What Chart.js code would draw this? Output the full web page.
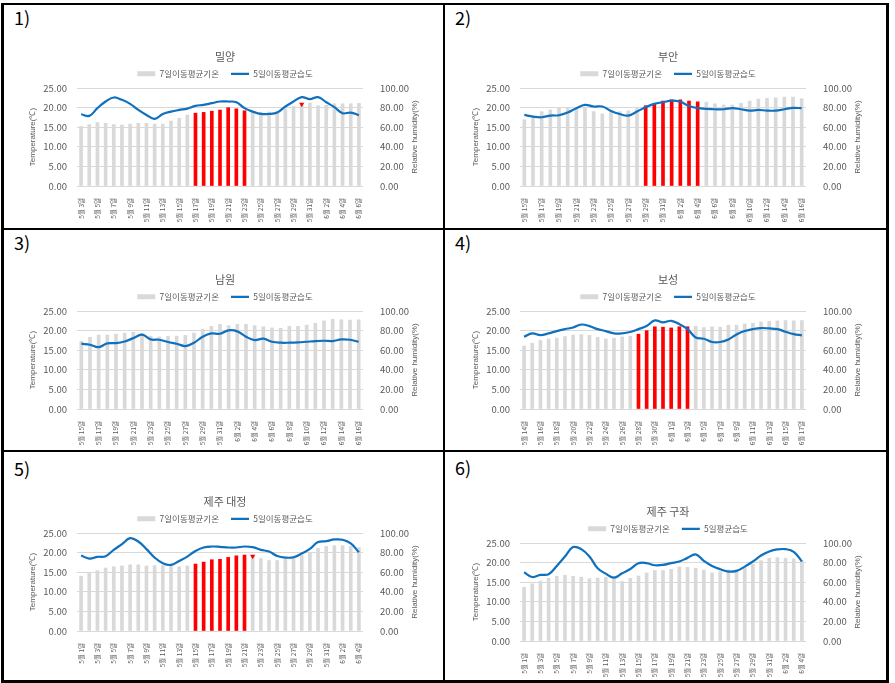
<!DOCTYPE html>
<html>
<head>
<meta charset="utf-8">
<script src="https://cdn.jsdelivr.net/npm/chart.js@4.4.1/dist/chart.umd.min.js"></script>
<style>
  body { margin: 0; background: #fff; }
  #page { position: relative; width: 895px; height: 683px; overflow: hidden; background: #fff; }
  .ln { position: absolute; background: #000; }
  .num { position: absolute; font: 18px 'Noto Sans CJK KR', sans-serif; color: #000; line-height: 20px; }
  canvas { position: absolute; }
</style>
</head>
<body>
<div id="page">
  <div class="ln" style="left:1px;top:3px;width:888px;height:2px"></div>
  <div class="ln" style="left:1px;top:680px;width:888px;height:3px"></div>
  <div class="ln" style="left:1px;top:3px;width:3px;height:680px"></div>
  <div class="ln" style="left:886px;top:3px;width:3px;height:680px"></div>
  <div class="ln" style="left:443px;top:3px;width:2px;height:680px"></div>
  <div class="ln" style="left:1px;top:228px;width:888px;height:2px"></div>
  <div class="ln" style="left:1px;top:450px;width:888px;height:2px"></div>

  <div class="num" style="left:14px;top:7px">1)</div>
  <div class="num" style="left:455px;top:7px">2)</div>
  <div class="num" style="left:14px;top:232px">3)</div>
  <div class="num" style="left:455px;top:232px">4)</div>
  <div class="num" style="left:14px;top:458px">5)</div>
  <div class="num" style="left:455px;top:457px">6)</div>

  <canvas id="c1" width="410" height="185" style="left:20px;top:40px"></canvas>
  <canvas id="c2" width="410" height="185" style="left:463px;top:40px"></canvas>
  <canvas id="c3" width="410" height="185" style="left:20px;top:263px"></canvas>
  <canvas id="c4" width="410" height="185" style="left:463px;top:263px"></canvas>
  <canvas id="c5" width="410" height="185" style="left:20px;top:485px"></canvas>
  <canvas id="c6" width="410" height="185" style="left:463px;top:495px"></canvas>
</div>

<script>
// dates (categories)
const datesMiryang = ['5월 3일','5월 4일','5월 5일','5월 6일','5월 7일','5월 8일','5월 9일','5월 10일','5월 11일','5월 12일',
  '5월 13일','5월 14일','5월 15일','5월 16일','5월 17일','5월 18일','5월 19일','5월 20일','5월 21일','5월 22일',
  '5월 23일','5월 24일','5월 25일','5월 26일','5월 27일','5월 28일','5월 29일','5월 30일','5월 31일','6월 1일',
  '6월 2일','6월 3일','6월 4일','6월 5일','6월 6일'];
const datesBuan = ['5월 15일','5월 16일','5월 17일','5월 18일','5월 19일','5월 20일','5월 21일','5월 22일','5월 23일','5월 24일',
  '5월 25일','5월 26일','5월 27일','5월 28일','5월 29일','5월 30일','5월 31일','6월 1일','6월 2일','6월 3일',
  '6월 4일','6월 5일','6월 6일','6월 7일','6월 8일','6월 9일','6월 10일','6월 11일','6월 12일','6월 13일',
  '6월 14일','6월 15일','6월 16일'];
const datesBoseong = ['5월 14일','5월 15일','5월 16일','5월 17일','5월 18일','5월 19일','5월 20일','5월 21일','5월 22일','5월 23일',
  '5월 24일','5월 25일','5월 26일','5월 27일','5월 28일','5월 29일','5월 30일','5월 31일','6월 1일','6월 2일',
  '6월 3일','6월 4일','6월 5일','6월 6일','6월 7일','6월 8일','6월 9일','6월 10일','6월 11일','6월 12일',
  '6월 13일','6월 14일','6월 15일','6월 16일','6월 17일'];
const datesJeju = ['5월 1일','5월 2일','5월 3일','5월 4일','5월 5일','5월 6일','5월 7일','5월 8일','5월 9일','5월 10일',
  '5월 11일','5월 12일','5월 13일','5월 14일','5월 15일','5월 16일','5월 17일','5월 18일','5월 19일','5월 20일',
  '5월 21일','5월 22일','5월 23일','5월 24일','5월 25일','5월 26일','5월 27일','5월 28일','5월 29일','5월 30일',
  '5월 31일','6월 1일','6월 2일','6월 3일','6월 4일'];

// 7-day moving avg temperature (C) and 5-day moving avg humidity (%)
const tempMiryang = [15.2,15.7,16.2,16.0,15.7,15.6,15.8,16.0,16.0,15.8,15.8,16.6,17.3,18.1,18.6,18.8,19.1,19.4,20.0,19.7,
  19.2,18.9,18.8,18.9,19.0,19.7,20.3,20.6,21.2,20.5,20.6,21.0,21.0,21.0,21.1];
const humMiryang = [73.3,71.6,79.5,86.3,90.4,88.0,83.9,77.7,72.6,68.5,73.6,76.0,77.7,79.1,81.8,82.9,84.6,86.3,86.3,85.6,
  79.5,76.0,73.6,73.6,75.0,81.2,86.3,90.8,88.7,90.8,85.6,80.5,74.3,75.0,72.3];

const tempBuan = [16.9,17.6,19.0,19.4,20.0,19.9,20.1,20.0,19.0,18.4,19.2,19.0,19.2,19.8,20.5,21.0,21.7,22.0,22.0,21.7,
  21.5,21.4,21.0,20.7,20.7,21.1,21.7,22.2,22.4,22.5,22.7,22.7,22.3];
const humBuan = [72.6,70.9,70.2,71.9,72.3,75.0,79.5,82.9,81.2,81.2,76.7,73.6,71.9,76.0,80.5,83.9,85.6,87.3,86.0,81.8,
  79.5,78.8,78.4,78.4,79.5,78.4,77.0,77.7,77.0,77.0,78.4,79.8,79.5];

const tempNamwon = [17.3,18.3,18.9,18.9,19.1,19.4,19.6,19.3,18.6,18.4,18.6,18.6,18.8,19.4,20.4,21.1,21.6,21.3,21.6,21.6,
  21.3,21.0,20.7,20.6,21.1,21.1,21.4,21.9,22.5,22.9,22.8,22.7,22.8];
const humNamwon = [66.7,65.6,63.3,67.0,67.3,69.0,72.4,75.9,71.1,70.7,68.4,66.7,64.3,67.7,73.8,77.2,76.9,80.3,79.3,73.8,
  70.4,71.8,68.7,67.7,67.7,68.0,68.7,69.4,69.7,69.4,71.1,70.7,68.7];

const tempBoseong = [16.1,16.8,17.5,17.9,18.1,18.5,18.9,19.0,18.8,18.3,17.9,18.1,18.4,18.6,19.1,20.0,21.0,20.9,20.7,21.0,
  21.0,21.1,20.8,21.0,20.9,21.4,21.4,21.7,21.9,22.2,22.4,22.5,22.6,22.5,22.6];
const humBoseong = [73.8,77.2,75.5,77.2,79.6,81.6,83.3,86.3,84.7,81.6,79.6,77.2,77.2,78.6,81.6,84.7,90.5,88.4,90.1,86.7,
  81.6,73.1,71.8,68.4,68.4,71.1,76.2,79.6,81.6,82.7,82.3,81.6,78.9,76.5,75.2];

const tempDaejeong = [14.0,14.7,15.4,16.1,16.4,16.6,16.9,16.9,16.6,16.7,16.7,16.9,16.4,16.6,17.1,17.6,18.2,18.3,18.8,19.2,
  19.4,19.2,18.5,18.0,18.0,18.4,18.8,19.4,20.1,21.1,21.6,21.8,21.8,21.6,21.3];
const humDaejeong = [77.1,74.0,75.7,76.4,82.9,88.7,94.9,91.4,83.6,75.0,69.2,67.5,71.6,76.0,81.8,85.3,86.3,86.0,85.3,85.3,
  86.3,85.6,82.9,81.2,76.7,75.0,75.3,79.1,83.9,90.8,91.8,93.5,93.2,89.4,80.5];

const tempGujwa = [13.7,14.6,15.3,16.0,16.5,16.8,16.5,16.3,15.9,16.1,16.3,16.0,15.2,16.0,16.6,17.4,18.0,18.0,18.3,18.9,
  18.8,18.6,18.1,17.4,17.7,18.2,18.2,18.8,19.6,20.5,21.1,21.3,21.1,21.0,20.5];
const humGujwa = [70.2,65.4,67.5,68.2,76.7,86.3,95.9,93.8,86.3,74.3,68.8,64.7,69.2,73.6,79.5,79.5,77.4,77.7,79.5,81.2,
  84.9,88.4,81.8,76.7,73.3,70.9,71.6,76.0,81.2,87.3,91.4,93.5,93.8,91.1,81.2];

// highlighted (red) periods and small triangle marks
const redMiryang = ['5월 17일', '5월 23일'];
const redBuan = ['5월 29일', '6월 4일'];
const redBoseong = ['5월 28일', '6월 3일'];
const redDaejeong = ['5월 15일', '5월 21일'];
const markMiryang = [{x: '5월 30일', y: 20.9}];
const markDaejeong = [{x: '5월 22일', y: 19.1}];

const F = "'Noto Sans CJK KR', 'Noto Sans', sans-serif";
const NARROW = "'Liberation Sans Narrow', 'Liberation Sans', sans-serif";
const TXT = '#595959';
const GRAY = '#d9d9d9';
const RED = '#ff0000';
const BLUE = '#0f70bd';

const rightTitle = {
  id: 'rightTitle',
  afterDraw(chart) {
    const s = chart.scales.y1, c = chart.ctx;
    c.save();
    c.translate(s.right - 15, (s.top + s.bottom) / 2);
    c.rotate(-Math.PI / 2);
    c.font = '8px ' + NARROW;
    c.fillStyle = TXT;
    c.textAlign = 'center';
    c.textBaseline = 'middle';
    c.fillText('Relative humidity(%)', 0, 0);
    c.restore();
  }
};

function drawStation(id, title, labels, temps, hums, red, humLabel, marks) {
  let i0 = -1, i1 = -1;
  if (red) { i0 = labels.indexOf(red[0]); i1 = labels.indexOf(red[1]); }
  const datasets = [
    {
      type: 'bar', label: '7일이동평균기온', data: temps, yAxisID: 'y', order: 1,
      barThickness: 3,
      backgroundColor: ctx => (ctx.type === 'data' && ctx.dataIndex >= i0 && ctx.dataIndex <= i1) ? RED : GRAY
    },
    {
      type: 'line', label: humLabel, data: hums, yAxisID: 'y1', order: 0,
      borderColor: BLUE, backgroundColor: BLUE, borderWidth: 2.2, pointRadius: 0, tension: 0.4
    }
  ];
  if (marks) {
    datasets.push({
      type: 'line', label: 'mark', data: marks, yAxisID: 'y', order: -1, showLine: false,
      pointStyle: 'triangle', rotation: 180, pointRadius: 3, backgroundColor: RED, borderColor: RED, borderWidth: 0
    });
  }
  new Chart(document.getElementById(id), {
    data: { labels: labels, datasets: datasets },
    plugins: [rightTitle],
    options: {
      responsive: false,
      animation: false,
      layout: { padding: 0 },
      plugins: {
        tooltip: { enabled: false },
        title: { display: true, text: title, color: TXT, font: { size: 11, family: F, weight: 'normal' }, padding: { top: 10.4, bottom: -6 } },
        legend: {
          position: 'top',
          labels: {
            usePointStyle: true, pointStyleWidth: 18, boxHeight: 5, padding: 12,
            color: TXT, font: { size: 8.5, family: F },
            filter: item => item.datasetIndex < 2,
            sort: (a, b) => a.datasetIndex - b.datasetIndex,
            generateLabels(chart) {
              const items = Chart.defaults.plugins.legend.labels.generateLabels(chart);
              items.forEach(it => { it.pointStyle = it.datasetIndex === 0 ? 'rect' : 'line'; });
              return items;
            }
          }
        }
      },
      scales: {
        x: {
          grid: { display: false }, border: { display: false },
          ticks: {
            autoSkip: false, maxRotation: 90, minRotation: 90, padding: 4,
            color: TXT, font: { size: 6.5, family: F },
            callback(v, i) { return i % 2 ? '' : this.getLabelForValue(v); }
          },
          afterFit(s) { s.height = 39; }
        },
        y: {
          position: 'left', min: 0, max: 25,
          grid: { color: GRAY, drawTicks: false }, border: { display: false },
          ticks: { stepSize: 5, padding: 10, color: TXT, font: { size: 9.5, family: F }, callback: v => v.toFixed(2) },
          title: { display: true, text: 'Temperature(℃)', color: TXT, font: { size: 8, family: NARROW }, padding: { top: 7.5, bottom: 0 } },
          afterFit(s) { s.width = 57; }
        },
        y1: {
          position: 'right', min: 0, max: 100,
          grid: { display: false }, border: { display: false },
          ticks: { stepSize: 20, padding: 9, color: TXT, font: { size: 9.5, family: F }, callback: v => v.toFixed(2) },
          afterFit(s) { s.width = 67; }
        }
      }
    }
  });
}

drawStation('c1', '밀양', datesMiryang, tempMiryang, humMiryang, redMiryang, '5일이동평균습도', markMiryang);
drawStation('c2', '부안', datesBuan, tempBuan, humBuan, redBuan, '5일이동평균습도', null);
drawStation('c3', '남원', datesBuan, tempNamwon, humNamwon, null, '5일이동평균습도', null);
drawStation('c4', '보성', datesBoseong, tempBoseong, humBoseong, redBoseong, '5일이동평균습도', null);
drawStation('c5', '제주 대정', datesJeju, tempDaejeong, humDaejeong, redDaejeong, '5일이동평균습도', markDaejeong);
drawStation('c6', '제주 구좌', datesJeju, tempGujwa, humGujwa, null, '5일평균습도', null);
</script>
</body>
</html>
